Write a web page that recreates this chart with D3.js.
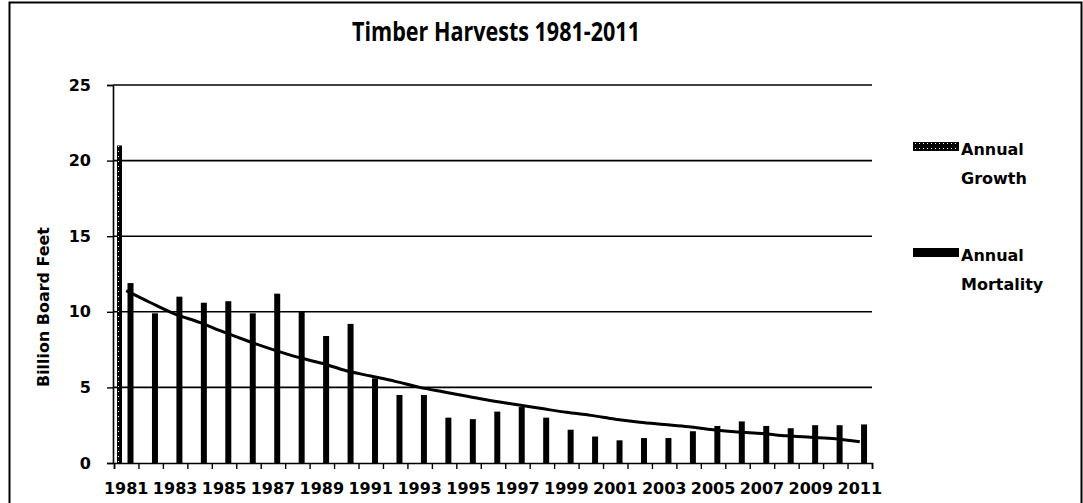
<!DOCTYPE html>
<html>
<head>
<meta charset="utf-8">
<script src="https://cdn.jsdelivr.net/npm/d3@7"></script>
<style>
  body { margin: 0; background: #fff; }
  svg { display: block; }
</style>
</head>
<body>
<div id="chart"></div>
<script>
/* DATA */
const years = ["1981","1982","1983","1984","1985","1986","1987","1988","1989","1990",
  "1991","1992","1993","1994","1995","1996","1997","1998","1999","2000",
  "2001","2002","2003","2004","2005","2006","2007","2008","2009","2010","2011"];
const yearLabels = ["1981","1983","1985","1987","1989","1991","1993","1995","1997","1999",
  "2001","2003","2005","2007","2009","2011"];
const seriesNames = ["Annual Growth", "Annual Mortality"];
// billion board feet
const growth = [21, 0, 0, 0, 0, 0, 0, 0, 0, 0, 0, 0, 0, 0, 0, 0,
  0, 0, 0, 0, 0, 0, 0, 0, 0, 0, 0, 0, 0, 0, 0];
const mortality = [11.9, 9.9, 11.0, 10.6, 10.7, 9.9, 11.2, 10.0, 8.4, 9.2,
  5.6, 4.5, 4.5, 3.0, 2.9, 3.4, 3.7, 3.0, 2.2, 1.75,
  1.5, 1.65, 1.65, 2.1, 2.45, 2.75, 2.45, 2.3, 2.5, 2.5, 2.55];
const trend = [11.4, 10.6, 9.85, 9.3, 8.65, 8.05, 7.5, 7.0, 6.6, 6.1,
  5.75, 5.4, 5.0, 4.7, 4.4, 4.1, 3.85, 3.6, 3.35, 3.15,
  2.9, 2.7, 2.55, 2.4, 2.2, 2.05, 1.95, 1.8, 1.7, 1.6, 1.4];
const yTicks = [0, 5, 10, 15, 20, 25];

/* LAYOUT */
const width = 1083, height = 503;
const plot = { left: 114, right: 872, top: 85, bottom: 463 };
const font = "'DejaVu Sans', Verdana, sans-serif";

const svg = d3.select("#chart").append("svg")
  .attr("width", width)
  .attr("height", height);

// dithered fill for the growth series (mostly black, a few white specks)
const defs = svg.append("defs");
const pat = defs.append("pattern")
  .attr("id", "dither")
  .attr("patternUnits", "userSpaceOnUse")
  .attr("width", 4).attr("height", 5);
pat.append("rect").attr("width", 4).attr("height", 5).attr("fill", "#000");
pat.append("rect").attr("x", 2).attr("y", 1).attr("width", 1).attr("height", 1).attr("fill", "#fff");

// outer chart border
svg.append("rect")
  .attr("x", 9.5).attr("y", 2.5)
  .attr("width", 1072).attr("height", 520)
  .attr("fill", "none")
  .attr("stroke", "#000")
  .attr("stroke-width", 2);

/* SCALES */
const x = d3.scaleBand()
  .domain(years)
  .range([plot.left, plot.right])
  .paddingInner(0)
  .paddingOuter(0);

const x1 = d3.scaleBand()
  .domain(seriesNames)
  .range([3, 19.5])
  .paddingInner(0.43)
  .paddingOuter(0);

const y = d3.scaleLinear()
  .domain([0, 25])
  .range([plot.bottom, plot.top]);

const xEdges = d3.scaleLinear()
  .domain([0, years.length])
  .range([plot.left, plot.right]);

/* GRIDLINES */
svg.append("g")
  .selectAll("line")
  .data(yTicks.filter(d => d > 0))
  .join("line")
  .attr("x1", plot.left - 1)
  .attr("x2", plot.right)
  .attr("y1", d => y(d))
  .attr("y2", d => y(d))
  .attr("stroke", "#000")
  .attr("stroke-width", 1.6);

/* BARS */
const rows = years.map((yr, i) => ({ year: yr, growth: growth[i], mortality: mortality[i], trend: trend[i] }));

svg.append("g")
  .selectAll("rect")
  .data(rows.filter(d => d.growth > 0))
  .join("rect")
  .attr("x", d => x(d.year) + x1("Annual Growth"))
  .attr("width", x1.bandwidth() - 1)
  .attr("y", d => y(d.growth))
  .attr("height", d => y(0) - y(d.growth))
  .attr("fill", "url(#dither)");

svg.append("g")
  .selectAll("rect")
  .data(rows)
  .join("rect")
  .attr("x", d => x(d.year) + x1("Annual Mortality"))
  .attr("width", x1.bandwidth())
  .attr("y", d => y(d.mortality))
  .attr("height", d => y(0) - y(d.mortality))
  .attr("fill", "#000");

/* TREND LINE */
const line = d3.line()
  .x(d => x(d.year) + x.bandwidth() / 2)
  .y(d => y(d.trend))
  .curve(d3.curveMonotoneX);

svg.append("path")
  .datum(rows)
  .attr("d", line)
  .attr("fill", "none")
  .attr("stroke", "#000")
  .attr("stroke-width", 3);

/* AXES */
const yAxis = d3.axisLeft(y)
  .tickValues(yTicks)
  .tickSize(6)
  .tickPadding(16);

svg.append("g")
  .attr("transform", `translate(${plot.left - 1}, 0)`)
  .call(yAxis)
  .call(g => g.select(".domain").attr("stroke-width", 1.6))
  .call(g => g.selectAll(".tick line").attr("stroke-width", 1.4))
  .call(g => g.selectAll("text")
    .attr("font-family", font)
    .attr("font-weight", "bold")
    .attr("font-size", 16)
    .attr("fill", "#000"));

// tick marks on category boundaries
svg.append("g")
  .attr("transform", `translate(0, ${plot.bottom})`)
  .call(d3.axisBottom(xEdges).tickValues(d3.range(years.length + 1)).tickSize(6).tickFormat(""))
  .call(g => g.select(".domain").attr("stroke-width", 1.6))
  .call(g => g.selectAll(".tick line").attr("stroke-width", 1.4));

// year labels
svg.append("g")
  .attr("transform", `translate(0, ${plot.bottom})`)
  .call(d3.axisBottom(x).tickValues(yearLabels).tickSize(0).tickPadding(20))
  .call(g => g.select(".domain").remove())
  .call(g => g.selectAll("text")
    .attr("font-family", font)
    .attr("font-weight", "bold")
    .attr("font-size", 16)
    .attr("fill", "#000"));

/* TITLE + AXIS LABEL */
svg.append("text")
  .attr("x", 496)
  .attr("y", 41)
  .attr("text-anchor", "middle")
  .attr("font-family", "'Open Sans', sans-serif")
  .attr("font-weight", "bold")
  .attr("font-size", 27)
  .attr("textLength", 288)
  .attr("lengthAdjust", "spacingAndGlyphs")
  .text("Timber Harvests 1981-2011");

svg.append("text")
  .attr("transform", "translate(49, 307) rotate(-90)")
  .attr("text-anchor", "middle")
  .attr("font-family", font)
  .attr("font-weight", "bold")
  .attr("font-size", 15)
  .attr("textLength", 160)
  .attr("lengthAdjust", "spacingAndGlyphs")
  .text("Billion Board Feet");

/* LEGEND */
const legendItems = [
  { name: seriesNames[0], lines: ["Annual", "Growth"], fill: "url(#dither)", top: 142 },
  { name: seriesNames[1], lines: ["Annual", "Mortality"], fill: "#000", top: 248 }
];

const legend = svg.append("g")
  .selectAll("g")
  .data(legendItems)
  .join("g")
  .attr("transform", d => `translate(913, ${d.top})`);

legend.append("rect")
  .attr("x", 0).attr("y", 0)
  .attr("width", 46).attr("height", 9)
  .attr("fill", d => d.fill);

legend.append("text")
  .attr("font-family", font)
  .attr("font-weight", "bold")
  .attr("font-size", 16)
  .attr("fill", "#000")
  .selectAll("tspan")
  .data(d => d.lines)
  .join("tspan")
  .attr("x", 48)
  .attr("y", (d, i) => 13 + i * 29)
  .text(d => d);
</script>
</body>
</html>
